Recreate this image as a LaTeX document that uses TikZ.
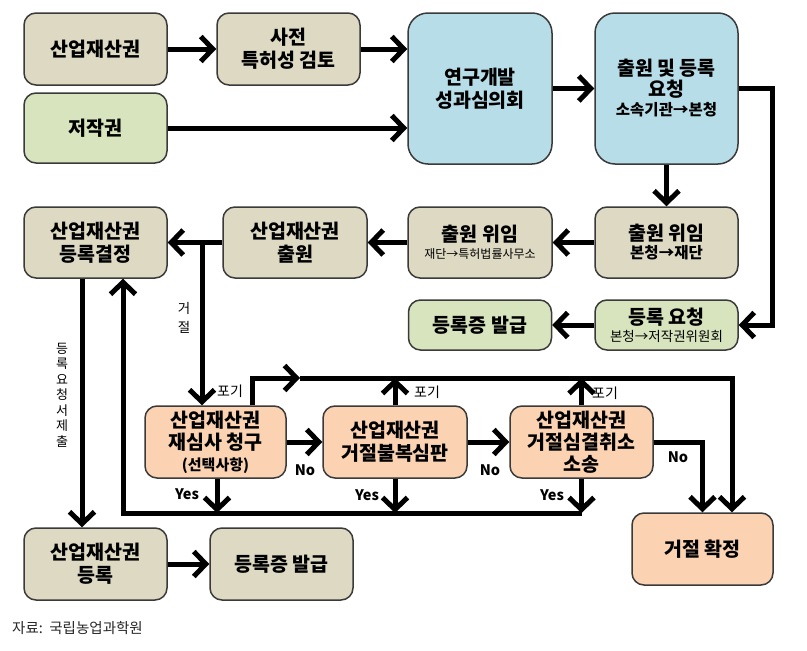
\documentclass[tikz,border=0pt]{standalone}
\usepackage{fontspec}
\setmainfont{Noto Sans CJK KR}
\usetikzlibrary{arrows.meta}

\definecolor{tanfill}{HTML}{DDD9C3}
\definecolor{greenfill}{HTML}{D7E4BD}
\definecolor{bluefill}{HTML}{B7DEE8}
\definecolor{orangefill}{HTML}{FBD3B2}
\definecolor{boxline}{HTML}{3A3A3A}

\begin{document}
\begin{tikzpicture}[x=1pt, y=-1pt,
box/.style = {draw=boxline, line width=1.5pt, rounded corners=12pt, minimum width=143pt,
              minimum height=72pt, align=center, inner sep=1pt,
              font=\bfseries\fontsize{19.5}{23}\selectfont},
tanbox/.style = {box, fill=tanfill},
greenbox/.style = {box, fill=greenfill},
bluebox/.style = {box, fill=bluefill, minimum height=151pt, rounded corners=20pt},
orangebox/.style = {box, fill=orangefill},
conn/.style = {line width=5pt, -{Straight Barb[length=12pt,width=25pt]}},
wire/.style = {line width=5pt},
lbl/.style = {font=\fontsize{14}{16}\selectfont, inner sep=0pt},
yn/.style = {font=\bfseries\fontsize{14.5}{16}\selectfont, inner sep=0pt},
vlbl/.style = {align=center, inner sep=0pt, font=\fontsize{13.5}{19}\selectfont}
                        ]
\fill[white] (0,0) rectangle (807,651);
\useasboundingbox (0,0) rectangle (807,651);

    % top row
    \node[tanbox] (ip) at (95.5,49) {산업재산권};
    \node[tanbox] (prior) at (288.5,49) {사전\\특허성 검토};
    \node[greenbox, minimum height=70pt] (copy) at (95.5,128) {저작권};
    \node[bluebox, minimum width=144pt] (council) at (480,88.5) {연구개발\\성과심의회};
    \node[bluebox] (request) at (666.5,88.5)
        {출원 및 등록\\[-2pt]요청\\[-4pt]{\fontsize{15.5}{17}\selectfont 소속기관→본청}};

    % second row
    \node[tanbox, minimum height=71pt] (delegHQ) at (666.5,242.5)
        {출원 위임\\[-5pt]{\fontsize{15.5}{17}\selectfont 본청→재단}};
    \node[tanbox, minimum height=71pt, minimum width=144pt] (delegFd) at (480,242.5)
        {출원 위임\\[-6pt]{\mdseries\fontsize{12}{14}\selectfont 재단→특허법률사무소}};
    \node[tanbox, minimum height=71pt, minimum width=144pt] (ipfile) at (295,242.5) {산업재산권\\출원};
    \node[tanbox, minimum height=71pt] (decision) at (95.5,242.5) {산업재산권\\등록결정};

    % copyright branch
    \node[greenbox, minimum height=50pt] (certC) at (480,325) {등록증 발급};
    \node[greenbox, minimum height=50pt] (regreq) at (666.5,325)
        {등록 요청\\[-6pt]{\mdseries\fontsize{13.5}{15}\selectfont 본청→저작권위원회}};

    % appeal row
    \node[orangebox, minimum width=141pt] (reexam) at (215.5,442)
        {산업재산권\\[-1pt]재심사 청구\\[-2pt]{\fontsize{15}{16}\selectfont (선택사항)}};
    \node[orangebox, minimum width=144pt] (trial) at (395,442) {산업재산권\\거절불복심판};
    \node[orangebox] (suit) at (581.5,442) {산업재산권\\[-1pt]거절심결취소\\[-1pt]소송};
    \node[orangebox, minimum width=141pt] (final) at (702.5,549) {거절 확정};

    % bottom row
    \node[tanbox] (reg) at (95.5,564) {산업재산권\\등록};
    \node[tanbox] (certI) at (281.5,564) {등록증 발급};
    \node[anchor=west, inner sep=0pt, text=black!85, font=\fontsize{14.5}{16}\selectfont] (src) at (12,628)
        {자료:\ \ 국립농업과학원};

    % connectors
    \draw[conn] (ip) -- (prior);
    \draw[conn] (prior) -- (prior -| council.west);
    \draw[conn] (copy) -- (copy -| council.west);
    \draw[conn] (council) -- (request);
    \coordinate (turnR) at (772,88.5);
    \draw[conn] (request.east) -- (turnR) |- (regreq.east);
    \draw[conn] (request) -- (delegHQ);
    \draw[conn] (delegHQ) -- (delegFd);
    \draw[conn] (delegFd) -- (ipfile);
    \draw[conn] (ipfile) -- (decision);
    \draw[conn] (regreq) -- (certC);
    \draw[conn] (reg) -- (certI);

    \coordinate (rejTop) at (202,242.5);
    \draw[conn] (rejTop) -- (rejTop |- reexam.north);
    \node[vlbl] (rejLbl) at (184,318) {거\\절};

    \draw[conn] ([xshift=-13.5pt]decision.south) -- ([xshift=-13.5pt]reg.north);
    \node[vlbl, font=\fontsize{13}{15.5}\selectfont] (subLbl) at (62,395) {등\\록\\요\\청\\서\\제\\출};

    % yes loop
    \coordinate (loopL) at (123,513);
    \draw[conn] (suit.south |- loopL) -- (loopL) -- (loopL |- decision.south);
    \draw[conn] ([xshift=1.5pt]reexam.south) -- ([xshift=1.5pt]reexam.south |- loopL);
    \draw[conn] (trial.south) -- (trial.south |- loopL);
    \draw[conn] (suit.south) -- (suit.south |- loopL);

    % give up line
    \coordinate (gvL) at (252,378);
    \coordinate (gvM) at (300,378);
    \coordinate (gvR) at (732,378);
    \draw[conn] (gvL |- reexam.north) -- (gvL) -- (gvM);
    \draw[conn] (gvM) -- (gvR) -- (gvR |- final.north);
    \draw[conn] (trial.north) -- (trial.north |- gvL);
    \draw[conn] (suit.north) -- (suit.north |- gvL);

    % no path
    \draw[conn] (reexam) -- (trial);
    \draw[conn] (trial) -- (suit);
    \draw[conn] (suit.east) -| (final.north);

    % labels
    \node[lbl] (gv1) at (230,391) {포기};
    \node[lbl] (gv2) at (427,392) {포기};
    \node[lbl] (gv3) at (605,393) {포기};
    \node[yn] (no1) at (305,470) {No};
    \node[yn] (no2) at (490,470) {No};
    \node[yn] (no3) at (678,457) {No};
    \node[yn] (yes1) at (187,494) {Yes};
    \node[yn] (yes2) at (367,495) {Yes};
    \node[yn] (yes3) at (552,495) {Yes};

\end{tikzpicture}
\end{document}
